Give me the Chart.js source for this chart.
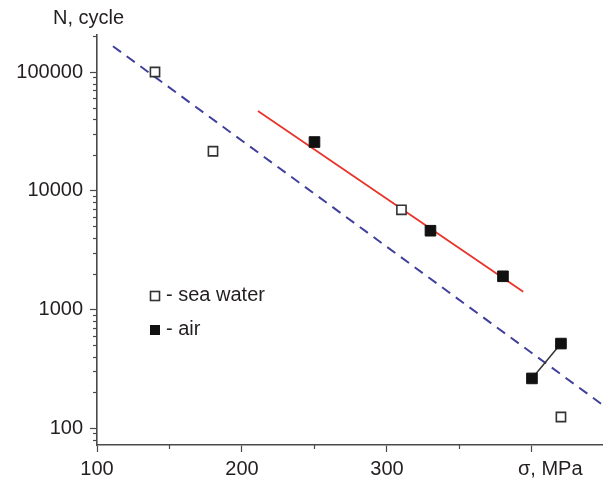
<!DOCTYPE html>
<html><head><meta charset="utf-8">
<script src="https://cdn.jsdelivr.net/npm/chart.js@4"></script>
<style>html,body{margin:0;padding:0;background:#fff}#wrap{width:603px;height:482px;position:relative}</style>
</head><body><div id="wrap"><canvas id="c"></canvas></div>
<script>
const seaWaterStress=[140,180,310,420];
const seaWaterCycles=[100000,21500,6900,124];
const airStress=[250,330,380,400,420];
const airCycles=[25700,4600,1900,262,515];
const seaFitStress=[111,449];
const seaFitCycles=[165000,156];
const airFitStress=[211,394];
const airFitCycles=[46900,1410];
const airLowStress=[400,420];
const airLowCycles=[262,515];
const xMajorTicks=[100,200,300,400];
const xMinorTicks=[150,250,350];
const xTickLabels=['100','200','300',''];
const yMajorTicks=[100,1000,10000,100000];
const yTickLabels=['100','1000','10000','100000'];
const yMinorMultipliers=[2,3,4,5,6,7,8,9];
const xTitle='σ, MPa';
const yTitle='N, cycle';
const legendLabels=['- sea water','- air'];

const FONT='"Liberation Sans", Arial, sans-serif';
const TXT='#231f20';
const AX='#4a4a4a';
const pts=(xs,ys)=>xs.map((x,i)=>({x,y:ys[i]}));
const yMin=72,yMax=205000,xMin=100,xMax=449;

function yTickList(){
  const t=[];
  yMajorTicks.forEach(v=>t.push({value:v,major:true}));
  [10,100,1000,10000,100000].forEach(d=>yMinorMultipliers.forEach(m=>{const v=m*d;if(v>yMin&&v<yMax*0.98)t.push({value:v,major:false});}));
  return t.sort((a,b)=>a.value-b.value);
}

const minorTicks={id:'minorTicks',afterDraw(chart){
  const ctx=chart.ctx,xs=chart.scales.x,ys=chart.scales.y;
  ctx.save();ctx.strokeStyle=AX;ctx.lineWidth=1.2;
  ys.ticks.forEach(t=>{if(!t.major){const p=Math.round(ys.getPixelForValue(t.value))+0.5;ctx.beginPath();ctx.moveTo(ys.right,p);ctx.lineTo(ys.right-4,p);ctx.stroke();}});
  xs.ticks.forEach(t=>{if(!t.major){const p=Math.round(xs.getPixelForValue(t.value))+0.5;ctx.beginPath();ctx.moveTo(p,xs.top);ctx.lineTo(p,xs.top+4);ctx.stroke();}});
  ctx.fillStyle=TXT;ctx.font='20px '+FONT;ctx.textBaseline='middle';
  ctx.textAlign='left';
  ctx.fillText(xTitle,xs.getPixelForValue(400)-14,xs.top+24);
  ctx.fillText(yTitle,53,18);
  const la=chart.chartArea;
  const lx=la.left+58, ly=[la.top+261,la.top+295];
  ctx.lineWidth=1.6;
  ctx.strokeStyle='#333';ctx.fillStyle='#fff';
  ctx.fillRect(lx-4.5,ly[0]-4.5,9,9);ctx.strokeRect(lx-4.5,ly[0]-4.5,9,9);
  ctx.fillStyle='#111';ctx.fillRect(lx-5,ly[1]-5,10,10);
  ctx.fillStyle=TXT;
  ctx.fillText(legendLabels[0],lx+11,ly[0]-1);
  ctx.fillText(legendLabels[1],lx+11,ly[1]-1);
  ctx.restore();
}};

new Chart(document.getElementById('c'),{
  type:'scatter',
  data:{datasets:[
    {data:pts(seaWaterStress,seaWaterCycles),pointStyle:'rect',pointRadius:6.5,pointBackgroundColor:'#fff',pointBorderColor:'#333',pointBorderWidth:1.6,showLine:false,order:0},
    {data:pts(airStress,airCycles),pointStyle:'rect',pointRadius:7.5,pointBackgroundColor:'#111',pointBorderColor:'#111',pointBorderWidth:1,showLine:false,order:0},
    {data:pts(seaFitStress,seaFitCycles),showLine:true,pointRadius:0,borderColor:'#40409c',borderWidth:2,borderDash:[10,7],order:2},
    {data:pts(airFitStress,airFitCycles),showLine:true,pointRadius:0,borderColor:'#e8342b',borderWidth:1.8,order:1},
    {data:pts(airLowStress,airLowCycles),showLine:true,pointRadius:0,borderColor:'#333',borderWidth:1.5,order:1}
  ]},
  options:{
    responsive:true,maintainAspectRatio:false,animation:false,
    layout:{autoPadding:false,padding:{top:35,right:0,left:0,bottom:0}},
    plugins:{legend:{display:false},tooltip:{enabled:false}},
    scales:{
      x:{type:'linear',min:xMin,max:xMax,
        afterBuildTicks:s=>{s.ticks=xMajorTicks.map(v=>({value:v,major:true})).concat(xMinorTicks.map(v=>({value:v,major:false}))).sort((a,b)=>a.value-b.value);},
        afterFit:s=>{s.height=37;s.paddingRight=0;s.paddingLeft=0;},
        grid:{drawOnChartArea:false,tickLength:7,tickWidth:1.2,tickColor:c=>c.tick&&c.tick.major?AX:'rgba(0,0,0,0)'},
        border:{display:true,color:AX,width:1.6},
        ticks:{autoSkip:false,maxRotation:0,padding:5,color:TXT,font:{size:20,family:FONT},
          callback:v=>{const i=xMajorTicks.indexOf(v);return i>=0?xTickLabels[i]:'';}}
      },
      y:{type:'logarithmic',min:yMin,max:yMax,
        afterBuildTicks:s=>{s.ticks=yTickList();},
        afterFit:s=>{s.width=97;s.paddingTop=0;s.paddingBottom=0;},
        grid:{drawOnChartArea:false,tickLength:7,tickWidth:1.2,tickColor:c=>c.tick&&c.tick.major?AX:'rgba(0,0,0,0)'},
        border:{display:true,color:AX,width:1.6},
        ticks:{autoSkip:false,padding:7,color:TXT,font:{size:20,family:FONT},
          callback:v=>{const i=yMajorTicks.indexOf(v);return i>=0?yTickLabels[i]:'';}}
      }
    }
  },
  plugins:[minorTicks]
});
</script></body></html>
